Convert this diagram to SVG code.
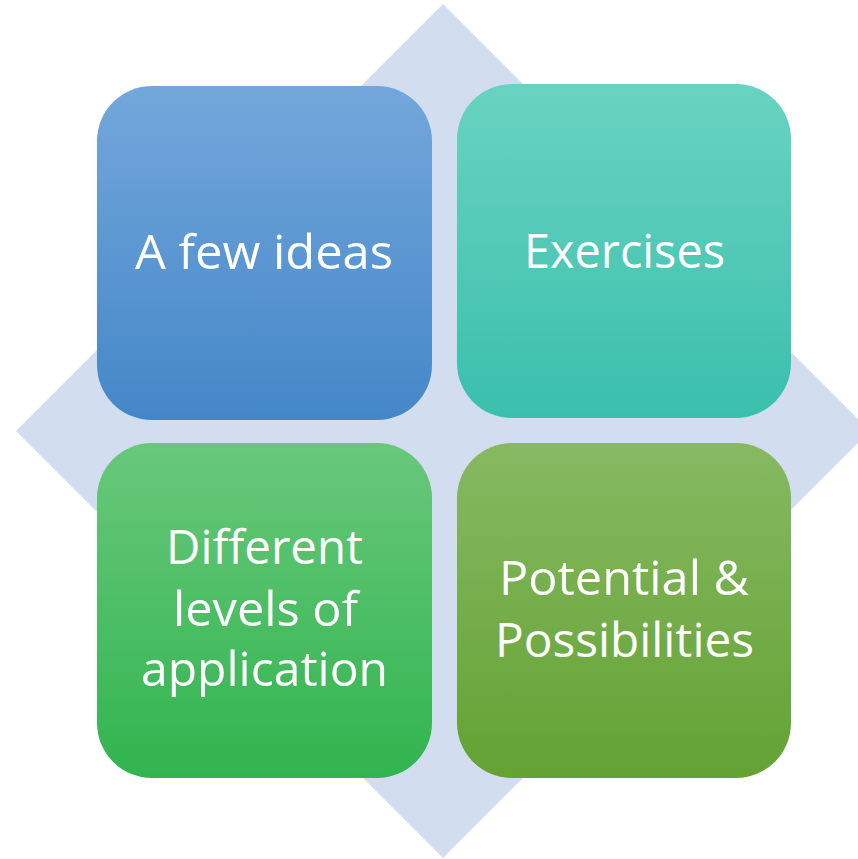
<svg xmlns="http://www.w3.org/2000/svg" width="858" height="859" viewBox="0 0 858 859">
<defs>
<linearGradient id="gBlue" x1="0" y1="0" x2="0" y2="1"><stop offset="0" stop-color="#73a7db"/><stop offset="1" stop-color="#4487c8"/></linearGradient>
<linearGradient id="gTeal" x1="0" y1="0" x2="0" y2="1"><stop offset="0" stop-color="#69d3c1"/><stop offset="1" stop-color="#3bbfad"/></linearGradient>
<linearGradient id="gGreen" x1="0" y1="0" x2="0" y2="1"><stop offset="0" stop-color="#69c87b"/><stop offset="1" stop-color="#31b44f"/></linearGradient>
<linearGradient id="gOlive" x1="0" y1="0" x2="0" y2="1"><stop offset="0" stop-color="#87b962"/><stop offset="1" stop-color="#63a233"/></linearGradient>
</defs>
<style>
.lbl{font-family:"Open Sans","Liberation Sans",sans-serif;font-size:48px;fill:#ffffff;text-anchor:middle}
</style>
<rect width="858" height="859" fill="#ffffff"/>
<polygon id="diamond" points="443,4 870,431 443,858 16,431" fill="#d2ddef"/>
<g id="node-ideas">
<rect x="97" y="86" width="335" height="334" rx="55" fill="url(#gBlue)"/>
<text class="lbl" x="264" y="269" textLength="258" lengthAdjust="spacingAndGlyphs">A few ideas</text>
</g>
<g id="node-exercises">
<rect x="457" y="84" width="334" height="334" rx="55" fill="url(#gTeal)"/>
<text class="lbl" x="624.5" y="268" textLength="201" lengthAdjust="spacingAndGlyphs">Exercises</text>
</g>
<g id="node-levels">
<rect x="97" y="443" width="335" height="335" rx="55" fill="url(#gGreen)"/>
<text class="lbl" x="264.5" y="564" textLength="197" lengthAdjust="spacingAndGlyphs">Different</text>
<text class="lbl" x="265.5" y="626" textLength="185" lengthAdjust="spacingAndGlyphs">levels of</text>
<text class="lbl" x="264.5" y="686" textLength="247" lengthAdjust="spacingAndGlyphs">application</text>
</g>
<g id="node-potential">
<rect x="457" y="443" width="334" height="335" rx="55" fill="url(#gOlive)"/>
<text class="lbl" x="624" y="595" textLength="250" lengthAdjust="spacingAndGlyphs">Potential &amp;</text>
<text class="lbl" x="624.5" y="657" textLength="259" lengthAdjust="spacingAndGlyphs">Possibilities</text>
</g>
<g id="connectors"/>
</svg>
